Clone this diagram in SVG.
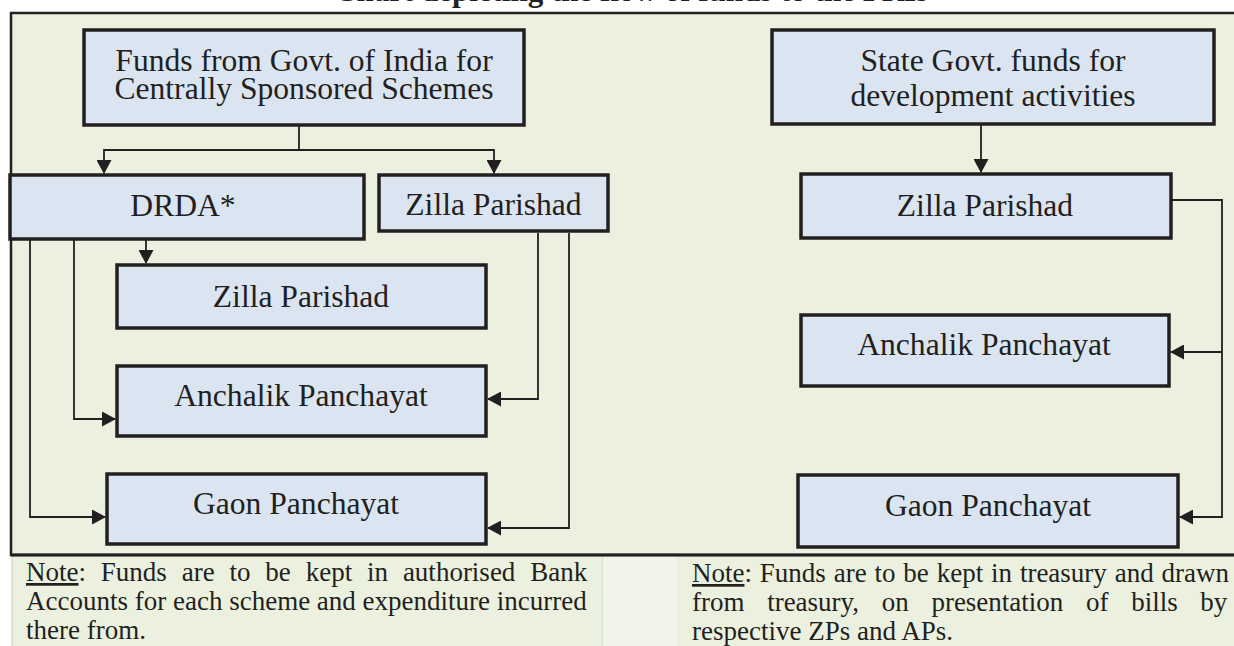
<svg xmlns="http://www.w3.org/2000/svg" width="1234" height="646" viewBox="0 0 1234 646">
  <defs>
    <style>
      .box { fill: #dbe5f1; stroke: #231f20; stroke-width: 3.5; }
      .lbl { font-family: "Liberation Serif", "Times New Roman", serif; font-size: 31.6px; fill: #231f20; text-anchor: middle; }
      .note { font-family: "Liberation Serif", "Times New Roman", serif; font-size: 27px; fill: #231f20; }
      .title { font-family: "Liberation Serif", "Times New Roman", serif; font-size: 31px; font-weight: bold; fill: #231f20; }
      .con { fill: none; stroke: #231f20; stroke-width: 1.8; }
      .arr { marker-end: url(#ah); }
    </style>
    <marker id="ah" viewBox="0 0 14 15" refX="13" refY="7.5" markerWidth="14" markerHeight="15" markerUnits="userSpaceOnUse" orient="auto">
      <path d="M0,0 L14,7.5 L0,15 z" fill="#231f20"/>
    </marker>
  </defs>

  <rect x="0" y="0" width="1234" height="646" fill="#ffffff"/>

  <text class="title" x="334" y="0.5">Chart depicting the flow of funds to the PRIs</text>

  <g id="frame">
    <rect x="11" y="13" width="1226" height="542" fill="#ebf1de" stroke="#231f20" stroke-width="2.5"/>
    <rect x="12" y="556.5" width="591" height="92" fill="#ebf1de" stroke="#c8cfc0" stroke-width="1"/>
    <rect x="603" y="556.5" width="74" height="92" fill="#f1f5e9"/>
    <rect x="677" y="556.5" width="560" height="92" fill="#ebf1de"/>
    <line x1="11" y1="555" x2="1234" y2="555" stroke="#231f20" stroke-width="3"/>
  </g>

  <g id="connectors">
    <path class="con" d="M299,125 V150"/>
    <path class="con arr" d="M299,150 H104 V173"/>
    <path class="con arr" d="M299,150 H494 V173"/>
    <path class="con arr" d="M146,240 V263"/>
    <path class="con arr" d="M74,240 V419 H115"/>
    <path class="con arr" d="M30,240 V517 H105"/>
    <path class="con arr" d="M538,233 V399 H488"/>
    <path class="con arr" d="M569,233 V528 H488"/>
    <path class="con arr" d="M981,125 V172"/>
    <path class="con arr" d="M1172,200 H1222 V517 H1180"/>
    <path class="con arr" d="M1222,352 H1171"/>
  </g>

  <g id="n_central">
    <rect class="box" x="84" y="30" width="440" height="95"/>
    <text class="lbl" x="304" y="71">Funds from Govt. of India for</text>
    <text class="lbl" x="304" y="98.5">Centrally Sponsored Schemes</text>
  </g>

  <g id="n_drda">
    <rect class="box" x="10" y="175" width="354" height="64"/>
    <text class="lbl" x="183" y="216">DRDA*</text>
  </g>

  <g id="n_zp_left">
    <rect class="box" x="379" y="175" width="229" height="56"/>
    <text class="lbl" x="493.5" y="215">Zilla Parishad</text>
  </g>

  <g id="n_zp_drda">
    <rect class="box" x="117" y="265" width="369" height="63"/>
    <text class="lbl" x="301" y="307">Zilla Parishad</text>
  </g>

  <g id="n_ap_left">
    <rect class="box" x="117" y="366" width="369" height="70"/>
    <text class="lbl" x="301" y="406">Anchalik Panchayat</text>
  </g>

  <g id="n_gp_left">
    <rect class="box" x="107" y="474" width="379" height="70"/>
    <text class="lbl" x="296" y="514">Gaon Panchayat</text>
  </g>

  <g id="n_state">
    <rect class="box" x="772" y="30" width="442" height="94"/>
    <text class="lbl" x="993" y="70.5">State Govt. funds for</text>
    <text class="lbl" x="993" y="106">development activities</text>
  </g>

  <g id="n_zp_right">
    <rect class="box" x="801" y="174" width="370" height="64"/>
    <text class="lbl" x="985" y="216">Zilla Parishad</text>
  </g>

  <g id="n_ap_right">
    <rect class="box" x="801" y="315" width="368" height="71"/>
    <text class="lbl" x="984" y="355">Anchalik Panchayat</text>
  </g>

  <g id="n_gp_right">
    <rect class="box" x="798" y="475" width="380" height="72"/>
    <text class="lbl" x="988" y="516">Gaon Panchayat</text>
  </g>

  <g id="notes">
    <text class="note" x="26" y="581" word-spacing="8.1"><tspan text-decoration="underline">Note</tspan>: Funds are to be kept in authorised Bank</text>
    <text class="note" x="26" y="610">Accounts for each scheme and expenditure incurred</text>
    <text class="note" x="26" y="639">there from.</text>
    <text class="note" x="692" y="582" word-spacing="1.1"><tspan text-decoration="underline">Note</tspan>: Funds are to be kept in treasury and drawn</text>
    <text class="note" x="692" y="611" word-spacing="15.9">from treasury, on presentation of bills by</text>
    <text class="note" x="692" y="640">respective ZPs and APs.</text>
  </g>
</svg>
